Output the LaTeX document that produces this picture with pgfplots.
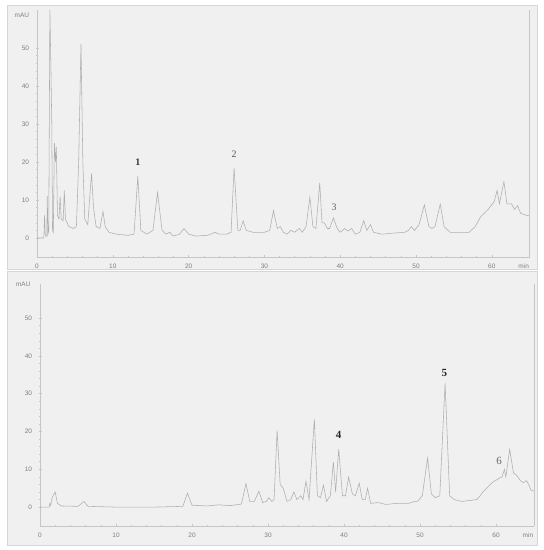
\documentclass[border=0pt]{standalone}
\usepackage{fontspec}
\setmainfont{Liberation Sans}
\newfontfamily\peakfont{Liberation Serif}
\usepackage{pgfplots}
\pgfplotsset{compat=1.18}

\definecolor{panel}{HTML}{F0F0F0}
\definecolor{frame}{HTML}{D6D6D6}
\definecolor{axisgray}{HTML}{C6C6C6}
\definecolor{labelgray}{HTML}{7E7E7E}
\definecolor{trace}{HTML}{AEAEAE}

\pgfplotsset{chrom/.style={
    scale only axis,
    xmin=0, xmax=65, ymin=-5,
    axis x line*=bottom, axis y line*=left,
    axis line style={axisgray, line width=0.6bp},
    xtick={0,10,...,60}, ytick={0,10,...,50},
    minor x tick num=4, minor y tick num=4,
    tick style={axisgray, line width=0.5bp},
    major tick length=3bp, minor tick length=1.6bp,
    tick align=center,
    ticklabel style={font=\fontsize{6.5}{7}\selectfont, text=labelgray},
    xticklabel style={yshift=-2bp},
    yticklabel style={xshift=-3bp},
    /pgf/number format/assume math mode=true,
    clip mode=individual,
}}

\begin{document}
\begin{tikzpicture}[x=1bp,y=1bp]
\fill[white] (0,0) rectangle (544,550);
\filldraw[fill=panel, draw=frame, line width=0.5bp] (7,281) rectangle (537,545);
\filldraw[fill=panel, draw=frame, line width=0.5bp] (7,5) rectangle (537,279);

% upper chromatogram
\begin{axis}[chrom, at={(37bp,293bp)}, anchor=south west,
    width=492.7bp, height=247bp, ymax=60]
\addplot[trace, line width=0.55bp, mark=none] coordinates {
(0,0) (0.9,0) (1.0,6) (1.1,0.5) (1.3,0.5) (1.35,11) (1.45,1) (1.55,2)
(1.7,60) (1.85,43) (1.95,30) (2.05,2) (2.15,1.5) (2.3,25) (2.45,20) (2.55,24)
(2.7,6) (2.9,5) (3.05,11) (3.2,5) (3.45,4.5) (3.6,12.5) (3.75,5) (4.2,3)
(4.8,2.5) (5.2,3) (5.5,20) (5.8,51) (6.05,20) (6.3,5) (6.7,3.5) (7.0,12)
(7.2,17) (7.45,8) (7.8,3) (8.3,2.5) (8.7,7) (9.0,3) (9.5,1.5) (10.5,1)
(12,0.7) (12.8,1) (13.3,16.3) (13.7,2) (14.5,1) (15.3,2) (15.9,12) (16.5,2)
(17.0,1) (17.5,1.5) (18.0,0.5) (18.8,1) (19.4,2.5) (20.0,1) (21.0,0.5) (22.5,0.7)
(23.5,1.5) (24.0,1) (25.0,1) (25.6,1.5) (26.0,18.4) (26.5,2) (26.8,2) (27.2,4.5)
(27.6,2) (28.5,1.5) (30.0,1.5) (30.7,2) (31.2,7.2) (31.7,2.5) (32.1,3.0) (32.5,1.5)
(33.0,1) (33.5,2.0) (34.0,1.5) (34.6,2.5) (35.0,1.5) (35.5,3) (36.0,10.8) (36.4,3)
(36.8,2.5) (37.3,14.5) (37.6,4) (37.9,4) (38.3,2.5) (38.6,2.5) (39.1,5.3) (39.6,2.5)
(40.0,1.5) (40.6,2.5) (41.0,1.8) (41.5,2.5) (42.0,1) (42.6,1.5) (43.1,4.6) (43.5,2)
(44.0,3.5) (44.4,1.5) (45.5,1) (46.5,1.2) (48.5,1.5) (49.0,2) (49.4,3) (49.8,2)
(50.4,3.5) (51.1,8.7) (51.7,3) (52.1,2.5) (52.5,3) (53.2,8.9) (53.7,3) (54.5,1.5)
(57.0,1.5) (57.8,3) (58.5,5.5) (59.5,7.5) (60.3,9.5) (60.7,12.5) (61.0,9) (61.6,14.8)
(62.0,9) (62.6,9) (63.0,7.5) (63.4,8.5) (63.8,6.5) (64.5,6) (65,5.8)
};
\draw[axisgray, line width=0.6bp] (rel axis cs:1,0) -- (rel axis cs:1,1);
\node[font=\fontsize{6.5}{7}\selectfont, text=labelgray] at (axis cs:-2,58.7) {mAU};
\node[font=\fontsize{6.5}{7}\selectfont, text=labelgray, anchor=north, yshift=-3.5bp] at (axis cs:64.2,-5) {min};
\node[font=\peakfont\bfseries\fontsize{10}{10}\selectfont, text=black!80] at (axis cs:13.3,20) {1};
\node[font=\peakfont\fontsize{10}{10}\selectfont, text=black!65] at (axis cs:26.0,22) {2};
\node[font=\peakfont\fontsize{10}{10}\selectfont, text=black!60] at (axis cs:39.2,8.2) {3};
\end{axis}

% lower chromatogram
\begin{axis}[chrom, at={(40bp,24bp)}, anchor=south west,
    width=494bp, height=241.9bp, ymax=59]
\addplot[trace, line width=0.55bp, mark=none] coordinates {
(0,0) (1.2,0) (1.3,1) (1.4,0.5) (1.6,2.5) (1.8,3.3) (2.0,4) (2.3,1)
(2.8,0.3) (5.0,0.2) (5.8,1.5) (6.3,0.2) (10,0) (15,0) (18.8,0.2) (19.4,3.7)
(20.0,0.5) (22,0.3) (23.5,0.6) (25,0.4) (26.5,0.8) (27.1,6.2) (27.6,1.5) (28.2,1.5)
(28.8,4.2) (29.3,1.2) (29.8,1.5) (30.1,2.5) (30.5,1.5) (30.8,2) (31.2,20.3) (31.6,6)
(32.0,5) (32.5,1.5) (33.0,2) (33.4,4) (33.8,2) (34.3,3) (34.6,2) (35.0,6.8)
(35.4,2) (36.1,23.3) (36.5,3) (36.9,2.5) (37.3,5.8) (37.7,1.5) (38.2,3) (38.6,11.9)
(38.9,4) (39.3,15.3) (39.8,3) (40.2,3) (40.6,7.9) (41.1,3.5) (41.5,3) (42.0,6.3)
(42.4,2) (42.8,2) (43.1,5) (43.5,1) (44.5,1.2) (45.5,0.7) (47,1) (48.5,1)
(49.3,1.5) (49.7,1.5) (50.3,3) (51.0,13) (51.5,3.5) (52.0,2.5) (52.6,3) (53.3,32.8)
(53.9,3) (54.5,2) (55.5,1.5) (57.5,2) (58.5,4.5) (59.5,6.5) (60.3,7.5) (60.8,8)
(61.1,10) (61.3,8) (61.8,15.3) (62.3,9) (62.7,8.5) (63.2,7) (63.6,6.5) (64.0,7)
(64.3,6) (64.6,4.5) (65,4.2)
};
\draw[axisgray, line width=0.6bp] (rel axis cs:1,0) -- (rel axis cs:1,1);
\node[font=\fontsize{6.5}{7}\selectfont, text=labelgray] at (axis cs:-2.2,59) {mAU};
\node[font=\fontsize{6.5}{7}\selectfont, text=labelgray, anchor=north, yshift=-3.5bp] at (axis cs:64.2,-5) {min};
\node[font=\peakfont\bfseries\fontsize{11}{11}\selectfont, text=black!85] at (axis cs:39.3,19) {4};
\node[font=\peakfont\bfseries\fontsize{11}{11}\selectfont, text=black!85] at (axis cs:53.2,35.4) {5};
\node[font=\peakfont\fontsize{11}{11}\selectfont, text=black!60] at (axis cs:60.4,12.2) {6};
\end{axis}
\end{tikzpicture}
\end{document}
